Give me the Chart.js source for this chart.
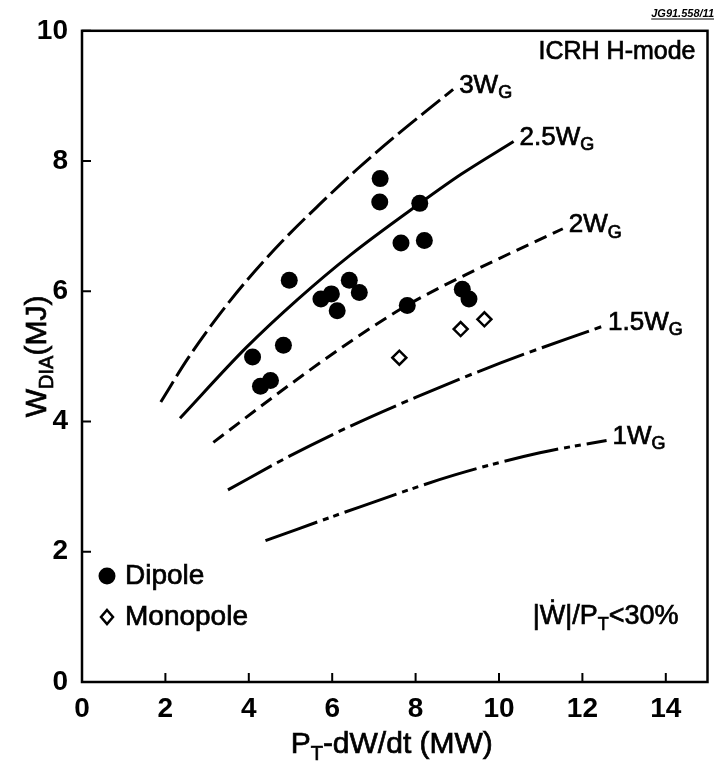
<!DOCTYPE html>
<html>
<head>
<meta charset="utf-8">
<script src="https://cdn.jsdelivr.net/npm/chart.js@4.4.1/dist/chart.umd.min.js"></script>
<style>
html, body { margin: 0; padding: 0; background: #fff; }
</style>
</head>
<body>
<canvas id="wdiaChart" width="717" height="766"></canvas>
<script>
const xTicks = [0, 2, 4, 6, 8, 10, 12, 14];
const yTicks = [0, 2, 4, 6, 8, 10];

// ICRH dipole shots
const dipoleX = [4.09, 4.28, 4.52, 4.83, 4.97, 5.73, 5.98, 6.12, 6.41, 6.65, 7.14, 7.15, 7.65, 7.80, 8.10, 8.21, 9.12, 9.28];
const dipoleY = [4.99, 4.54, 4.63, 5.17, 6.17, 5.88, 5.96, 5.70, 6.17, 5.98, 7.37, 7.73, 6.74, 5.78, 7.35, 6.78, 6.03, 5.88];
// monopole shots
const monoX = [7.61, 9.08, 9.65];
const monoY = [4.98, 5.42, 5.57];

// Goldston multiples
const g3X = [1.89, 2.52, 3.22, 3.93, 4.79, 5.69, 6.59, 7.53, 8.55, 8.90];
const g3Y = [4.30, 4.95, 5.58, 6.15, 6.76, 7.33, 7.87, 8.39, 8.92, 9.10];
const g25X = [2.35, 3.93, 5.18, 6.44, 8.08, 9.10, 10.35];
const g25Y = [4.05, 5.13, 5.88, 6.56, 7.34, 7.80, 8.30];
const g2X = [3.15, 4.95, 6.51, 7.81, 9.41, 11.53];
const g2Y = [3.68, 4.55, 5.26, 5.79, 6.32, 6.96];
const g15X = [3.50, 4.95, 6.44, 8.00, 10.04, 12.47];
const g15Y = [2.95, 3.46, 3.93, 4.37, 4.90, 5.46];
const g1X = [4.40, 6.67, 8.94, 10.98, 12.58];
const g1Y = [2.17, 2.69, 3.18, 3.52, 3.71];

const FONT = "'Liberation Sans', Arial, Helvetica, sans-serif";

function pts(xs, ys) {
	return xs.map((x, i) => ({ x: x, y: ys[i] }));
}

function curve(label, xs, ys, dash, tag) {
	return {
		type: "line",
		label: label,
		data: pts(xs, ys),
		borderColor: "#000",
		borderWidth: 3,
		borderDash: dash,
		pointRadius: 0,
		cubicInterpolationMode: "monotone",
		fill: false,
		tag: tag,
	};
}

// draws text made of [string, isSubscript] parts
function richText(ctx, parts, x, y, size, align) {
	const subSize = Math.round(size * 0.68);
	let total = 0;
	parts.forEach(p => {
		ctx.font = (p[1] ? subSize : size) + "px " + FONT;
		total += ctx.measureText(p[0]).width;
	});
	let cx = x;
	if (align === "right") cx = x - total;
	if (align === "center") cx = x - total / 2;
	ctx.textAlign = "left";
	ctx.textBaseline = "middle";
	ctx.lineWidth = 0.7;
	parts.forEach(p => {
		ctx.font = (p[1] ? subSize : size) + "px " + FONT;
		const ty = p[1] ? y + size * 0.3 : y;
		ctx.fillText(p[0], cx, ty);
		ctx.strokeText(p[0], cx, ty);
		cx += ctx.measureText(p[0]).width;
	});
}

const decor = {
	id: "decor",
	afterDraw(chart) {
		const ctx = chart.ctx;
		const a = chart.chartArea;
		const xs = chart.scales.x;
		const ys = chart.scales.y;
		ctx.save();
		ctx.strokeStyle = "#000";
		ctx.fillStyle = "#000";

		// frame
		ctx.lineWidth = 2.5;
		ctx.strokeRect(a.left, a.top, a.right - a.left, a.bottom - a.top);

		// inward ticks
		ctx.lineWidth = 2;
		ctx.beginPath();
		xTicks.forEach(v => {
			const px = xs.getPixelForValue(v);
			ctx.moveTo(px, a.bottom);
			ctx.lineTo(px, a.bottom - 9);
		});
		yTicks.forEach(v => {
			const py = ys.getPixelForValue(v);
			ctx.moveTo(a.left, py);
			ctx.lineTo(a.left + 9, py);
		});
		ctx.stroke();

		// curve labels at the end of each line
		chart.data.datasets.forEach(ds => {
			if (!ds.tag) return;
			const last = ds.data[ds.data.length - 1];
			const px = xs.getPixelForValue(last.x);
			const py = ys.getPixelForValue(last.y);
			richText(ctx, [[ds.tag, false], ["G", true]], px + 6, py - 4, 26, "left");
		});

		// legend
		const lx = a.left + 25;
		const l1 = a.bottom - 106;
		const l2 = a.bottom - 65;
		ctx.beginPath();
		ctx.arc(lx, l1, 8.5, 0, Math.PI * 2);
		ctx.fill();
		ctx.lineWidth = 2.5;
		ctx.beginPath();
		ctx.moveTo(lx, l2 - 7);
		ctx.lineTo(lx + 6, l2);
		ctx.lineTo(lx, l2 + 7);
		ctx.lineTo(lx - 6, l2);
		ctx.closePath();
		ctx.stroke();
		richText(ctx, [["Dipole", false]], lx + 18, l1, 28, "left");
		richText(ctx, [["Monopole", false]], lx + 18, l2, 28, "left");

		richText(ctx, [["|Ẇ|/P", false], ["T", true], ["<30%", false]], a.right - 29, l2, 27, "right");
		richText(ctx, [["ICRH H-mode", false]], a.right - 12, a.top + 21, 25, "right");

		// figure id
		ctx.font = "bold italic 11px " + FONT;
		ctx.textAlign = "right";
		ctx.textBaseline = "alphabetic";
		ctx.fillText("JG91.558/11", 714, 17);
		const w = ctx.measureText("JG91.558/11").width;
		ctx.lineWidth = 1;
		ctx.beginPath();
		ctx.moveTo(714 - w, 19);
		ctx.lineTo(714, 19);
		ctx.stroke();

		// axis titles
		richText(ctx, [["P", false], ["T", true], ["-dW/dt (MW)", false]], (a.left + a.right) / 2 - 3, 745, 30, "center");
		ctx.translate(38, (a.top + a.bottom) / 2);
		ctx.rotate(-Math.PI / 2);
		richText(ctx, [["W", false], ["DIA", true], ["(MJ)", false]], 0, 0, 30, "center");
		ctx.restore();
	},
};

const ctx = document.getElementById("wdiaChart");
const chart = new Chart(ctx, {
	type: "scatter",
	data: {
		datasets: [
			{
				label: "Dipole",
				data: pts(dipoleX, dipoleY),
				pointStyle: "circle",
				pointRadius: 8.5,
				backgroundColor: "#000",
				borderColor: "#000",
				borderWidth: 0,
			},
			{
				label: "Monopole",
				data: pts(monoX, monoY),
				pointStyle: "rectRot",
				pointRadius: 7,
				backgroundColor: "#fff",
				borderColor: "#000",
				borderWidth: 2.5,
			},
			curve("3WG", g3X, g3Y, [24, 6], "3W"),
			curve("2.5WG", g25X, g25Y, [], "2.5W"),
			curve("2WG", g2X, g2Y, [13, 7], "2W"),
			curve("1.5WG", g15X, g15Y, [50, 6, 7, 6], "1.5W"),
			curve("1WG", g1X, g1Y, [55, 6, 6, 5, 6, 6], "1W"),
		],
	},
	options: {
		responsive: false,
		animation: false,
		layout: { padding: { top: 25, right: 5, left: 0, bottom: 0 } },
		plugins: {
			legend: { display: false },
			tooltip: { enabled: false },
		},
		scales: {
			x: {
				type: "linear",
				min: 0,
				max: 15,
				grid: { display: false, drawTicks: false },
				border: { display: false },
				ticks: {
					color: "#000",
					padding: 10,
					font: { family: FONT, size: 28, weight: "bold" },
				},
				afterBuildTicks: s => { s.ticks = xTicks.map(v => ({ value: v })); },
				afterFit: s => { s.height = 84; },
			},
			y: {
				type: "linear",
				min: 0,
				max: 10,
				grid: { display: false, drawTicks: false },
				border: { display: false },
				ticks: {
					color: "#000",
					padding: 14,
					font: { family: FONT, size: 28, weight: "bold" },
				},
				afterBuildTicks: s => { s.ticks = yTicks.map(v => ({ value: v })); },
				afterFit: s => { s.width = 82; },
			},
		},
	},
	plugins: [decor],
});
</script>
</body>
</html>
